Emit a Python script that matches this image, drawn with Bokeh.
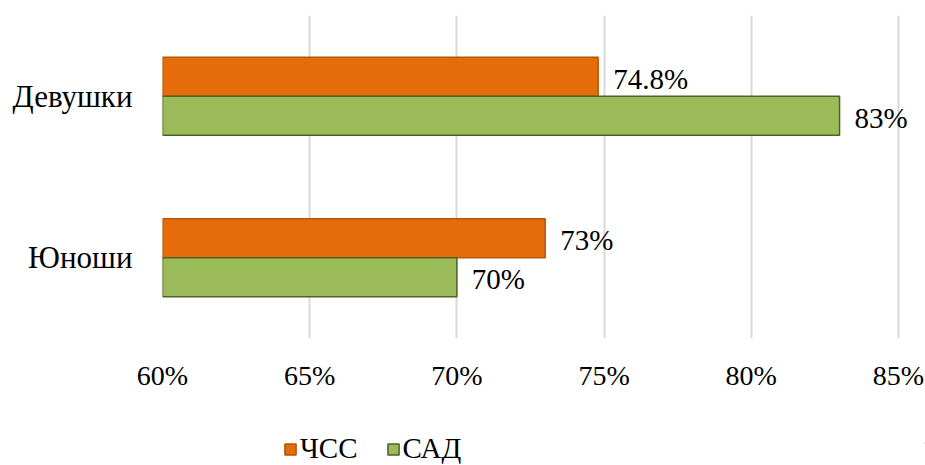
from bokeh.plotting import figure
from bokeh.layouts import column
from bokeh.models import (FactorRange, ColumnDataSource, FixedTicker, PrintfTickFormatter,
                          LabelSet, Legend, LegendItem)
from bokeh.transform import dodge
from bokeh.embed import file_html
from bokeh.resources import INLINE

categories = ["Юноши", "Девушки"]
series_names = ["ЧСС", "САД"]
chss = [73, 74.8]
sad = [70, 83]
x_ticks = [60, 65, 70, 75, 80, 85]

FONT = "'Liberation Serif'"
C_CHSS, L_CHSS = "#E46C0A", "#B65708"
C_SAD, L_SAD = "#9BBB59", "#4F6228"

src_chss = ColumnDataSource(dict(cat=categories, val=chss, lbl=[f"{v:g}%" for v in chss]))
src_sad = ColumnDataSource(dict(cat=categories, val=sad, lbl=[f"{v:g}%" for v in sad]))

p = figure(width=925, height=420, output_backend="svg", toolbar_location=None,
           y_range=FactorRange(*categories), x_range=(60, 85.92))
p.min_border_left = 162
p.min_border_right = 0
p.min_border_top = 15
p.min_border_bottom = 82
p.outline_line_color = None

bh = 0.242
p.hbar(y=dodge("cat", 0.121, range=p.y_range), right="val", left=60, height=bh,
       source=src_chss, fill_color=C_CHSS, line_color=L_CHSS, line_width=1.5)
p.hbar(y=dodge("cat", -0.121, range=p.y_range), right="val", left=60, height=bh,
       source=src_sad, fill_color=C_SAD, line_color=L_SAD, line_width=1.5)

for src, off in ((src_chss, 0.121), (src_sad, -0.121)):
    lab = LabelSet(x="val", y=dodge("cat", off, range=p.y_range), text="lbl", source=src,
                   x_offset=15, y_offset=-2, text_baseline="middle", text_align="left",
                   text_font=FONT, text_font_size="29px", text_color="#000000")
    p.add_layout(lab)

p.xaxis.ticker = FixedTicker(ticks=x_ticks)
p.xaxis.formatter = PrintfTickFormatter(format="%d%%")
p.xaxis.axis_line_color = None
p.xaxis.major_tick_line_color = None
p.xaxis.major_tick_out = 0
p.xaxis.major_tick_in = 0
p.xaxis.minor_tick_line_color = None
p.xaxis.major_label_text_font = FONT
p.xaxis.major_label_text_font_size = "28px"
p.xaxis.major_label_text_color = "#000000"
p.xaxis.major_label_standoff = 21

p.yaxis.axis_line_color = None
p.yaxis.major_tick_line_color = None
p.yaxis.major_tick_out = 0
p.yaxis.major_tick_in = 0
p.yaxis.minor_tick_line_color = None
p.yaxis.major_label_text_font = FONT
p.yaxis.major_label_text_font_size = "31px"
p.yaxis.major_label_text_color = "#000000"
p.yaxis.major_label_standoff = 30

p.ygrid.grid_line_color = None
p.xgrid.grid_line_color = "#D9D9D9"
p.xgrid.grid_line_width = 2

# legend strip below the chart; its renderers sit outside the visible range
p2 = figure(width=925, height=45, output_backend="svg", toolbar_location=None,
            y_range=(0, 1), x_range=(0, 1))
p2.min_border = 0
p2.axis.visible = False
p2.grid.visible = False
p2.outline_line_color = None
hidden = dict(y=[0.5], left=[5], right=[6])
q1 = p2.hbar(y="y", right="right", left="left", height=0.01, source=ColumnDataSource(hidden),
             fill_color=C_CHSS, line_color=L_CHSS, line_width=1.5)
q2 = p2.hbar(y="y", right="right", left="left", height=0.01, source=ColumnDataSource(hidden),
             fill_color=C_SAD, line_color=L_SAD, line_width=1.5)
legend = Legend(items=[LegendItem(label=series_names[0], renderers=[q1]),
                       LegendItem(label=series_names[1], renderers=[q2])],
                orientation="horizontal", location=(121, 0),
                label_text_font=FONT, label_text_font_size="29px",
                label_text_color="#000000",
                glyph_width=14, glyph_height=14, label_standoff=3, spacing=28,
                label_height=29, padding=0, margin=0,
                border_line_color=None, background_fill_alpha=0)
p2.add_layout(legend, "center")

layout = column(p, p2, spacing=0)
open("out.html", "w").write(file_html(layout, INLINE))
